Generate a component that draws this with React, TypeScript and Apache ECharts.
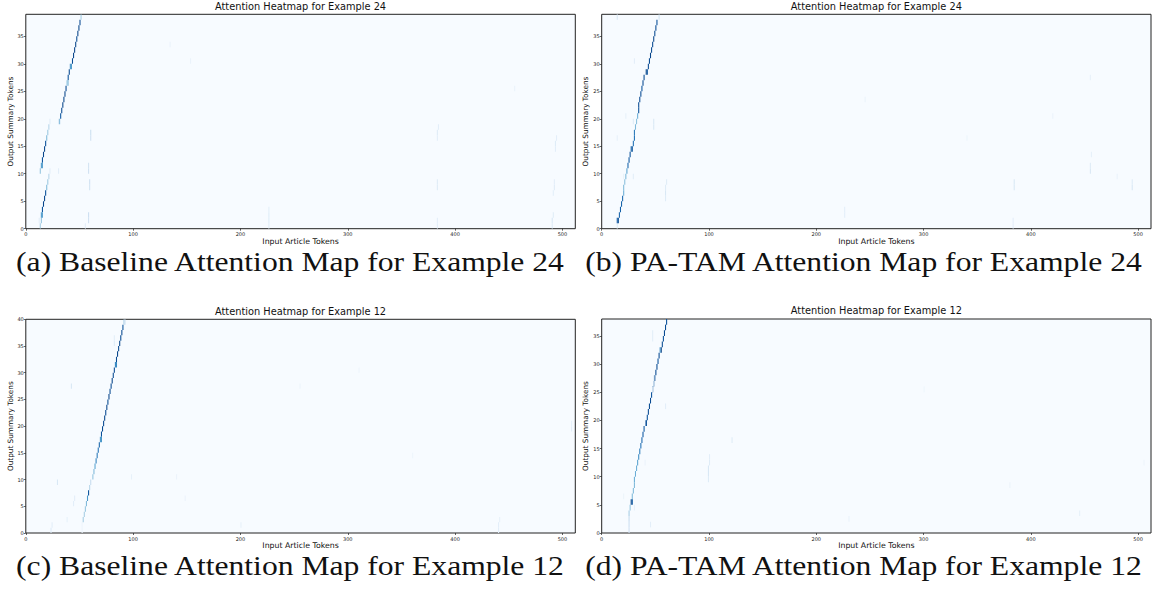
import { useEffect, useRef } from "react";
import * as echarts from "echarts";

// ---- shared axis settings ----
const tokenCount = 512;
const xTickValues = [0, 100, 200, 300, 400, 500];
const yTicks38 = [0, 5, 10, 15, 20, 25, 30, 35];
const yTicks40 = [0, 5, 10, 15, 20, 25, 30, 35, 40];

// ---- (a) Baseline, example 24: 39 output tokens ----
// strongest input position per output row, and its attention weight
const baseline24Cols = [
  13, 14, 14, 15, 16, 17, 18, 19, 20, 21,
  13, 14, 15, 16, 17, 18, 19, 20, 21,
  31, 32, 33, 34, 35, 36, 37, 38, 39, 40, 41, 43, 44, 45, 46, 47, 48, 49, 50, 51,
];
const baseline24Weights = [
  0.35, 0.4, 0.6, 0.88, 0.92, 0.92, 0.88, 0.45, 0.38, 0.3,
  0.4, 0.6, 0.88, 0.92, 0.92, 0.88, 0.45, 0.38, 0.3,
  0.45, 0.85, 0.9, 0.92, 0.92, 0.92, 0.9, 0.45, 0.88, 0.9, 0.62, 0.9, 0.92, 0.92, 0.92, 0.9, 0.92, 0.92, 0.9, 0.35,
];
// secondary cells: [input token, output token, weight]
const baseline24Extra = [
  [15, 2, 0.55], [15, 11, 0.55], [39, 26, 0.4], [42, 29, 0.6],
  [58, 1, 0.2], [58, 2, 0.22], [59, 7, 0.18], [59, 8, 0.2], [58, 10, 0.2], [58, 11, 0.18],
  [60, 16, 0.2], [60, 17, 0.22], [30, 10, 0.1], [30, 19, 0.12], [22, 10, 0.1], [22, 19, 0.1],
  [12, 1, 0.1], [55, 0, 0.1], [226, 0, 0.1], [226, 1, 0.12], [226, 2, 0.12], [226, 3, 0.1],
  [383, 0, 0.1], [383, 1, 0.1], [383, 7, 0.12], [383, 8, 0.12], [383, 16, 0.1], [383, 17, 0.12], [384, 18, 0.1],
  [490, 0, 0.12], [490, 1, 0.15], [491, 2, 0.12], [491, 6, 0.1], [492, 7, 0.12], [492, 8, 0.1],
  [493, 14, 0.1], [493, 15, 0.12], [494, 16, 0.1], [455, 25, 0.06], [153, 30, 0.06], [134, 33, 0.06],
];

// ---- (b) PA-TAM, example 24: 39 output tokens ----
const patam24Cols = [
  14, 15, 16, 17, 18, 19, 20, 20, 21, 22,
  23, 24, 25, 26, 28, 29, 30, 30, 31, 32,
  33, 34, 34, 35, 36, 37, 38, 39, 41, 43,
  44, 45, 46, 47, 48, 49, 50, 51, 53,
];
const patam24Weights = [
  0.12, 0.9, 0.8, 0.82, 0.8, 0.78, 0.5, 0.45, 0.42, 0.45,
  0.55, 0.8, 0.85, 0.88, 0.88, 0.75, 0.75, 0.72, 0.45, 0.42,
  0.5, 0.88, 0.9, 0.9, 0.9, 0.88, 0.9, 0.9, 0.92, 0.9,
  0.9, 0.92, 0.9, 0.9, 0.92, 0.9, 0.9, 0.88, 0.18,
];
const patam24Extra = [
  [14, 1, 0.85], [27, 14, 0.82], [42, 28, 0.88],
  [14, 38, 0.15], [14, 16, 0.08], [29, 9, 0.1], [29, 19, 0.12], [30, 30, 0.1], [48, 18, 0.15], [48, 19, 0.15],
  [59, 5, 0.12], [59, 6, 0.15], [59, 7, 0.12], [60, 8, 0.12], [20, 9, 0.08], [22, 20, 0.08],
  [226, 2, 0.1], [226, 3, 0.1], [383, 0, 0.1], [383, 1, 0.1], [384, 7, 0.15], [384, 8, 0.15],
  [455, 10, 0.15], [455, 11, 0.12], [455, 27, 0.08], [456, 13, 0.08], [494, 7, 0.15], [494, 8, 0.12],
  [480, 9, 0.06], [420, 20, 0.06], [340, 16, 0.05], [245, 23, 0.06],
];

// ---- (c) Baseline, example 12: 40 output tokens ----
const baseline12Cols = [
  52, 52, 53, 54, 55, 56, 57, 58, 59, 60,
  62, 63, 64, 65, 66, 67, 68, 69, 70, 71,
  72, 73, 74, 75, 76, 77, 78, 79, 80, 81,
  82, 83, 84, 85, 86, 87, 88, 89, 90, 91,
];
const baseline12Weights = [
  0.05, 0.05, 0.35, 0.35, 0.4, 0.45, 0.6, 0.88, 0.3, 0.25,
  0.4, 0.45, 0.55, 0.68, 0.72, 0.75, 0.8, 0.62, 0.88, 0.9,
  0.9, 0.92, 0.9, 0.92, 0.9, 0.92, 0.9, 0.9, 0.92, 0.9,
  0.9, 0.68, 0.9, 0.92, 0.9, 0.92, 0.9, 0.9, 0.88, 0.35,
];
const baseline12Extra = [
  [70, 17, 0.6], [84, 31, 0.65],
  [29, 9, 0.15], [42, 27, 0.15], [44, 5, 0.1], [45, 6, 0.1], [82, 35, 0.12], [82, 36, 0.1],
  [92, 39, 0.2], [23, 0, 0.12], [24, 1, 0.1], [38, 2, 0.08], [98, 10, 0.08], [140, 10, 0.06],
  [148, 6, 0.06], [200, 1, 0.08], [440, 0, 0.1], [440, 1, 0.1], [441, 2, 0.08], [508, 19, 0.1],
  [508, 20, 0.08], [310, 30, 0.05], [360, 14, 0.05], [255, 27, 0.05],
];

// ---- (d) PA-TAM, example 12: 38 output tokens ----
const patam12Cols = [
  25, 25, 25, 25, 26, 27, 28, 29, 30, 30,
  31, 32, 33, 34, 35, 36, 37, 38, 39, 41,
  42, 43, 44, 45, 46, 47, 48, 49, 50, 51,
  52, 53, 55, 56, 57, 58, 59, 60,
];
const patam12Weights = [
  0.2, 0.22, 0.25, 0.35, 0.4, 0.92, 0.45, 0.45, 0.45, 0.5,
  0.5, 0.5, 0.55, 0.65, 0.7, 0.75, 0.8, 0.85, 0.85, 0.9,
  0.88, 0.9, 0.9, 0.9, 0.88, 0.9, 0.88, 0.9, 0.9, 0.9,
  0.88, 0.9, 0.95, 0.9, 0.88, 0.9, 0.9, 0.88,
];
const patam12Extra = [
  [28, 5, 0.85], [41, 19, 0.88], [54, 32, 0.65],
  [99, 9, 0.12], [99, 10, 0.15], [99, 11, 0.15], [100, 12, 0.12], [100, 13, 0.1],
  [45, 1, 0.1], [47, 25, 0.1], [48, 26, 0.12], [48, 27, 0.1], [47, 34, 0.1], [47, 35, 0.1],
  [59, 22, 0.1], [121, 16, 0.12], [30, 4, 0.08], [40, 12, 0.06], [20, 6, 0.06],
  [230, 2, 0.06], [380, 8, 0.06], [445, 3, 0.08], [505, 12, 0.05], [300, 25, 0.05],
];

// ---- text ----
const heatmapTitles = [
  "Attention Heatmap for Example 24",
  "Attention Heatmap for Example 24",
  "Attention Heatmap for Example 12",
  "Attention Heatmap for Example 12",
];
const captions = [
  "(a) Baseline Attention Map for Example 24",
  "(b) PA-TAM Attention Map for Example 24",
  "(c) Baseline Attention Map for Example 12",
  "(d) PA-TAM Attention Map for Example 12",
];
const xAxisName = "Input Article Tokens";
const yAxisName = "Output Summary Tokens";

// matplotlib "Blues" colour map
const BLUES = ["#f7fbff", "#deebf7", "#c6dbef", "#9ecae1", "#6baed6", "#4292c6", "#2171b5", "#08519c", "#08306b"];
function hexToRgb(h: string) {
  return [parseInt(h.slice(1, 3), 16), parseInt(h.slice(3, 5), 16), parseInt(h.slice(5, 7), 16)];
}
function blues(t: number) {
  const v = Math.max(0, Math.min(1, t)) * (BLUES.length - 1);
  const i = Math.min(Math.floor(v), BLUES.length - 2);
  const f = v - i;
  const a = hexToRgb(BLUES[i]);
  const b = hexToRgb(BLUES[i + 1]);
  const c = a.map((x, k) => Math.round(x + (b[k] - x) * f));
  return `rgb(${c[0]},${c[1]},${c[2]})`;
}

function buildCells(cols: number[], weights: number[], extra: number[][]) {
  const cells: number[][] = cols.map((c, row) => [c, row, weights[row]]);
  return cells.concat(extra);
}

const panels = [
  { rows: 39, yTicks: yTicks38, data: buildCells(baseline24Cols, baseline24Weights, baseline24Extra) },
  { rows: 39, yTicks: yTicks38, data: buildCells(patam24Cols, patam24Weights, patam24Extra) },
  { rows: 40, yTicks: yTicks40, data: buildCells(baseline12Cols, baseline12Weights, baseline12Extra) },
  { rows: 38, yTicks: yTicks38, data: buildCells(patam12Cols, patam12Weights, patam12Extra) },
];

// panel frames in pixels
const frames = [
  { left: 25.8, top: 14.3, width: 549.5, height: 214.4 },
  { left: 601.7, top: 14.3, width: 549.3, height: 214.4 },
  { left: 25.8, top: 319.3, width: 549.5, height: 213.7 },
  { left: 601.7, top: 319, width: 549.3, height: 214 },
];

const SANS = "DejaVu Sans";
const SERIF = "Liberation Serif";

export default function App() {
  const ref = useRef<HTMLDivElement>(null);

  useEffect(() => {
    if (!ref.current) return;
    const chart = echarts.init(ref.current, undefined, { renderer: "svg" });

    const grid = frames.map((f) => ({
      left: f.left,
      top: f.top,
      width: f.width,
      height: f.height,
      show: true,
      backgroundColor: BLUES[0],
      borderColor: "#222",
      borderWidth: 1,
    }));

    const xAxis = frames.map((_, i) => ({
      type: "value",
      gridIndex: i,
      min: 0,
      max: tokenCount,
      interval: 100,
      axisLine: { show: false },
      splitLine: { show: false },
      axisTick: { show: true, length: 2, customValues: xTickValues, lineStyle: { color: "#222", width: 0.7 } },
      axisLabel: { fontSize: 5, fontFamily: SANS, color: "#222", margin: 3, customValues: xTickValues },
    }));

    const yAxis = panels.map((p, i) => ({
      type: "value",
      gridIndex: i,
      min: 0,
      max: p.rows,
      interval: 5,
      axisLine: { show: false },
      splitLine: { show: false },
      axisTick: { show: true, length: 2, customValues: p.yTicks, lineStyle: { color: "#222", width: 0.7 } },
      axisLabel: { fontSize: 5, fontFamily: SANS, color: "#222", margin: 2, customValues: p.yTicks },
    }));

    const series = panels.map((p, i) => ({
      type: "custom",
      xAxisIndex: i,
      yAxisIndex: i,
      clip: true,
      encode: { x: 0, y: 1 },
      data: p.data,
      renderItem: (_params: any, api: any) => {
        const c = api.value(0);
        const r = api.value(1);
        const w = api.value(2);
        const p0 = api.coord([c, r]);
        const p1 = api.coord([c + 1, r + 1]);
        return {
          type: "rect",
          shape: { x: p0[0], y: p1[1], width: p1[0] - p0[0], height: p0[1] - p1[1] },
          style: { fill: blues(w) },
        };
      },
    }));

    const graphic: any[] = [];
    frames.forEach((f, i) => {
      const cx = f.left + f.width / 2;
      graphic.push({
        type: "text",
        x: cx,
        y: f.top - 8.3,
        style: { text: heatmapTitles[i], font: `9.8px ${SANS}`, fill: "#111", align: "center", verticalAlign: "middle" },
      });
      graphic.push({
        type: "text",
        x: cx,
        y: f.top + f.height + 12.5,
        style: { text: xAxisName, font: `7.8px ${SANS}`, fill: "#111", align: "center", verticalAlign: "middle" },
      });
      graphic.push({
        type: "text",
        x: f.left - 15.8,
        y: f.top + f.height / 2,
        rotation: Math.PI / 2,
        style: { text: yAxisName, font: `7.3px ${SANS}`, fill: "#111", align: "center", verticalAlign: "middle" },
      });
      graphic.push({
        type: "text",
        x: i % 2 === 0 ? 290 : 863.5,
        y: f.top + f.height + 33,
        scaleX: 1.15,
        style: { text: captions[i], font: `27.5px ${SERIF}`, fill: "#111", align: "center", verticalAlign: "middle" },
      });
    });

    chart.setOption({
      animation: false,
      backgroundColor: "#ffffff",
      grid,
      xAxis,
      yAxis,
      series,
      graphic,
    } as any);

    return () => chart.dispose();
  }, []);

  return <div ref={ref} style={{ position: "absolute", left: 0, top: 0, width: 1153, height: 604 }} />;
}
